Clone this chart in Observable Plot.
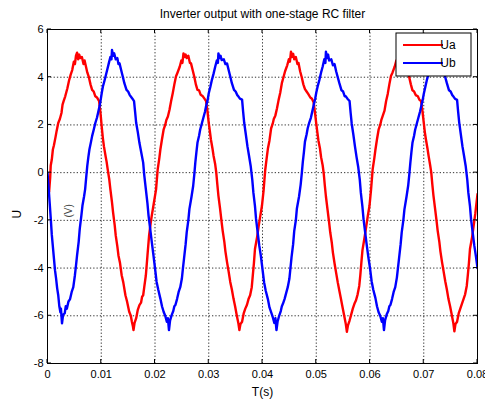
<!DOCTYPE html>
<html><head><meta charset="utf-8">
<script src="https://cdn.jsdelivr.net/npm/d3@7"></script>
<script src="https://cdn.jsdelivr.net/npm/@observablehq/plot@0.6"></script>
<style>
body{margin:0;background:#fff;}
#chart{width:485px;height:401px;}
svg{font-family:"Liberation Sans",Arial,Helvetica,sans-serif;}
</style></head><body><div id="chart"></div>
<script>
const title = "Inverter output with one-stage RC filter";
const xLabel = "T(s)";
const yLabel = "U";
const yUnit = "(V)";
const seriesNames = ["Ua", "Ub"];
const seriesColors = ["#ff0000", "#0000ff"];
const xTicks = [0, 0.01, 0.02, 0.03, 0.04, 0.05, 0.06, 0.07, 0.08];
const xTickLabels = ["0", "0.01", "0.02", "0.03", "0.04", "0.05", "0.06", "0.07", "0.08"];
const yTicks = [-8, -6, -4, -2, 0, 2, 4, 6];
const yTickLabels = ["-8", "-6", "-4", "-2", "0", "2", "4", "6"];

// Ua samples [time s, volts]
const uaSamples = [
[0,-0.55],[0.0003,-0.8],[0.0005,-0.2],[0.0006,0.3],[0.0008,0.55],[0.001,0.97],[0.0012,1.15],[0.0015,1.5],[0.0017,1.75],[0.002,2.08],
[0.0023,2.25],[0.0026,2.5],[0.0028,2.85],[0.003,3.0],[0.0033,3.2],[0.0037,3.54],[0.004,3.85],[0.0043,4.1],[0.0046,4.3],[0.0049,4.65],
[0.0051,4.55],[0.0053,4.9],[0.0055,5.03],[0.0057,4.75],[0.0059,4.95],[0.0061,4.8],[0.0064,4.85],[0.0067,4.55],[0.0069,4.7],[0.0071,4.5],
[0.0074,4.2],[0.0077,4.0],[0.008,3.7],[0.0083,3.47],[0.0086,3.4],[0.0089,3.2],[0.0092,3.15],[0.0096,3.0],[0.0099,2.4],[0.0101,1.9],
[0.0103,1.45],[0.0105,1.1],[0.0108,0.7],[0.011,0.45],[0.0112,0.14],[0.0115,-0.3],[0.0117,-0.7],[0.012,-1.25],[0.0122,-1.67],[0.0125,-2.2],
[0.0127,-2.64],[0.013,-3.1],[0.0132,-3.47],[0.0135,-3.8],[0.0138,-4.3],[0.0141,-4.6],[0.0145,-5.14],[0.0148,-5.4],[0.0152,-5.83],[0.0155,-6.0],
[0.0157,-6.25],[0.0159,-6.45],[0.016,-6.6],[0.0162,-6.3],[0.0165,-6.1],[0.0168,-5.75],[0.0171,-5.55],[0.0174,-5.45],[0.0176,-5.2],[0.0178,-5.14],
[0.018,-4.8],[0.0183,-4.3],[0.0186,-3.47],[0.0189,-2.64],[0.0192,-2.1],[0.0194,-1.8],[0.0198,-1.25],
[0.0202,-0.7],[0.0205,0.14],[0.0208,0.6],[0.021,0.97],[0.0213,1.4],[0.0216,1.8],[0.0219,2.0],[0.0221,2.2],[0.0224,2.35],[0.0227,2.64],
[0.023,3.0],[0.0233,3.33],[0.0236,3.7],[0.0239,4.03],[0.0242,4.2],[0.0246,4.44],[0.0249,4.7],[0.0251,4.6],[0.0253,5.0],[0.0255,4.85],
[0.0257,4.95],[0.0259,4.8],[0.0262,4.9],[0.0265,4.6],[0.0267,4.58],[0.027,4.3],[0.0273,4.03],[0.0276,3.7],[0.0279,3.47],[0.0282,3.45],
[0.0285,3.26],[0.0289,3.2],[0.0292,3.1],[0.0295,3.0],[0.0298,2.5],[0.03,2.08],[0.0302,1.75],[0.0304,1.39],[0.0307,1.0],[0.0309,0.7],
[0.0312,0.35],[0.0314,0],[0.0316,-0.5],[0.0318,-0.97],[0.0321,-1.5],[0.0324,-2.08],[0.0326,-2.45],[0.0329,-2.9],[0.0331,-3.3],[0.0334,-3.75],
[0.0337,-4.15],[0.034,-4.58],[0.0343,-4.9],[0.0346,-5.28],[0.0349,-5.6],[0.0352,-5.97],[0.0355,-6.3],[0.0357,-6.6],[0.0359,-6.35],[0.0362,-6.25],
[0.0365,-5.9],[0.0368,-5.7],[0.0371,-5.55],[0.0374,-5.3],[0.0377,-5.14],[0.038,-4.8],[0.0382,-4.3],[0.0384,-3.8],[0.0386,-3.2],[0.039,-2.7],
[0.0393,-2.22],[0.0396,-1.8],[0.0399,-1.39],
[0.0402,-0.75],[0.0405,0.1],[0.0408,0.65],[0.041,1.0],[0.0413,1.35],[0.0416,1.85],[0.0419,2.05],[0.0421,2.25],[0.0424,2.4],[0.0427,2.7],
[0.043,3.05],[0.0433,3.35],[0.0436,3.75],[0.0439,4.0],[0.0442,4.25],[0.0446,4.5],[0.0449,4.75],[0.0451,4.65],[0.0453,5.07],[0.0455,4.85],
[0.0457,4.98],[0.0459,4.75],[0.0462,4.85],[0.0465,4.55],[0.0467,4.6],[0.047,4.25],[0.0473,4.0],[0.0476,3.7],[0.0479,3.5],[0.0482,3.4],
[0.0485,3.3],[0.0489,3.15],[0.0492,3.1],[0.0495,2.95],[0.0498,2.45],[0.05,2.05],[0.0502,1.7],[0.0504,1.35],[0.0507,1.0],[0.0509,0.65],
[0.0512,0.3],[0.0514,-0.05],[0.0516,-0.55],[0.0518,-1.0],[0.0521,-1.55],[0.0524,-2.1],[0.0526,-2.5],[0.0529,-2.95],[0.0531,-3.35],[0.0534,-3.8],
[0.0537,-4.2],[0.054,-4.6],[0.0543,-4.95],[0.0546,-5.3],[0.0549,-5.65],[0.0552,-6.0],[0.0555,-6.35],[0.0557,-6.67],[0.0559,-6.4],[0.0562,-6.2],
[0.0565,-5.95],[0.0568,-5.7],[0.0571,-5.5],[0.0574,-5.35],[0.0577,-5.1],[0.058,-4.75],[0.0582,-4.3],[0.0584,-3.75],[0.0586,-3.25],[0.059,-2.7],
[0.0593,-2.25],[0.0596,-1.8],[0.0599,-1.4],
[0.0602,-0.7],[0.0605,0.15],[0.0608,0.6],[0.061,0.95],[0.0613,1.4],[0.0616,1.8],[0.0619,2.0],[0.0621,2.2],[0.0624,2.4],[0.0627,2.6],
[0.063,3.0],[0.0633,3.3],[0.0636,3.7],[0.0639,4.05],[0.0642,4.2],[0.0646,4.45],[0.0649,4.7],[0.0651,4.6],[0.0653,5.0],[0.0655,4.85],
[0.0657,4.95],[0.0659,4.8],[0.0662,4.85],[0.0665,4.6],[0.0667,4.55],[0.067,4.3],[0.0673,4.0],[0.0676,3.7],[0.0679,3.45],[0.0682,3.4],
[0.0685,3.25],[0.0689,3.2],[0.0692,3.05],[0.0695,3.0],[0.0698,2.5],[0.07,2.1],[0.0702,1.7],[0.0704,1.4],[0.0707,1.0],[0.0709,0.7],
[0.0712,0.3],[0.0714,0],[0.0716,-0.5],[0.0718,-0.95],[0.0721,-1.5],[0.0724,-2.05],[0.0726,-2.45],[0.0729,-2.9],[0.0731,-3.3],[0.0734,-3.75],
[0.0737,-4.15],[0.074,-4.55],[0.0743,-4.9],[0.0746,-5.3],[0.0749,-5.6],[0.0752,-5.95],[0.0755,-6.3],[0.0757,-6.65],[0.0759,-6.35],[0.0762,-6.25],
[0.0765,-5.9],[0.0768,-5.7],[0.0771,-5.5],[0.0774,-5.3],[0.0777,-5.1],[0.078,-4.75],[0.0782,-4.3],[0.0784,-3.8],[0.0786,-3.2],[0.079,-2.7],
[0.0793,-2.2],[0.0796,-1.7],[0.08,-0.9]
];

// Ub samples [time s, volts]
const ubSamples = [
[0,0],[0.0002,-0.6],[0.0004,-1.25],[0.0006,-1.9],[0.0008,-2.6],[0.001,-3.1],[0.0012,-3.6],[0.0014,-4.1],[0.0016,-4.44],[0.0018,-4.85],
[0.002,-5.14],[0.0022,-5.6],[0.0024,-5.85],[0.0025,-5.7],[0.0027,-6.32],[0.0029,-5.95],[0.0032,-5.9],[0.0034,-5.6],[0.0036,-5.7],[0.0039,-5.4],
[0.0042,-5.3],[0.0045,-5.0],[0.0048,-4.8],[0.0051,-4.3],[0.0053,-3.9],[0.0055,-3.47],[0.0058,-2.9],[0.006,-2.36],[0.0063,-1.8],[0.0065,-1.39],
[0.0068,-1.0],[0.007,-0.7],[0.0072,-0.2],[0.0074,0.28],[0.0076,0.65],[0.0078,0.97],[0.0081,1.3],[0.0083,1.53],[0.0086,1.8],[0.0089,2.08],
[0.0092,2.3],[0.0094,2.5],[0.0097,2.8],[0.0099,3.06],[0.0101,3.35],[0.0103,3.6],[0.0106,3.85],[0.0108,4.03],[0.0111,4.3],[0.0114,4.58],
[0.0117,4.85],[0.0119,4.75],[0.012,5.14],[0.0122,4.9],[0.0124,5.0],[0.0127,4.75],[0.013,4.8],[0.0132,4.55],[0.0134,4.58],[0.0137,4.3],
[0.014,4.03],[0.0143,3.75],[0.0147,3.47],[0.015,3.4],[0.0153,3.25],[0.0155,3.19],[0.0158,3.1],[0.0161,3.0],[0.0163,2.55],[0.0165,2.08],
[0.0168,1.7],[0.0171,1.25],[0.0174,0.9],[0.0178,0.42],[0.018,-0.1],[0.0183,-0.7],[0.0186,-1.3],[0.0188,-1.8],[0.0191,-2.35],[0.0194,-2.9],
[0.0197,-3.45],
[0.02,-4.0],[0.0203,-4.58],[0.0206,-4.9],[0.021,-5.28],[0.0213,-5.6],[0.0216,-5.83],[0.0219,-6.0],[0.0222,-6.25],[0.0224,-6.1],[0.0226,-6.6],
[0.0228,-6.2],[0.0231,-5.97],[0.0234,-5.8],[0.0236,-5.6],[0.0238,-5.55],[0.0241,-5.3],[0.0244,-5.0],[0.0247,-4.8],[0.025,-4.44],[0.0252,-4.0],
[0.0254,-3.6],[0.0257,-3.0],[0.0259,-2.5],[0.0262,-2.0],[0.0264,-1.53],[0.0268,-1.0],[0.0271,-0.56],[0.0273,-0.1],[0.0275,0.42],[0.0277,0.85],
[0.0279,1.25],[0.0282,1.55],[0.0284,1.8],[0.0287,2.05],[0.029,2.3],[0.0293,2.55],[0.0295,2.78],[0.0298,3.05],[0.03,3.33],[0.0303,3.6],
[0.0306,3.9],[0.0309,4.15],[0.0312,4.44],[0.0315,4.7],[0.0317,4.6],[0.0318,5.0],[0.032,4.8],[0.0322,4.9],[0.0324,4.72],[0.0328,4.75],
[0.0331,4.55],[0.0334,4.58],[0.0337,4.3],[0.034,4.03],[0.0343,3.75],[0.0347,3.47],[0.035,3.4],[0.0353,3.25],[0.0355,3.2],[0.0358,3.1],
[0.0362,3.06],[0.0364,2.55],[0.0366,2.08],[0.0369,1.6],[0.0372,1.1],[0.0375,0.7],[0.0378,0.28],[0.0381,-0.3],[0.0383,-0.83],[0.0386,-1.4],
[0.0388,-1.94],[0.0391,-2.5],[0.0394,-3.06],[0.0397,-3.5],
[0.04,-4.05],[0.0403,-4.6],[0.0406,-4.95],[0.041,-5.3],[0.0413,-5.65],[0.0416,-5.85],[0.0419,-6.05],[0.0422,-6.3],[0.0424,-6.1],[0.0426,-6.6],
[0.0428,-6.25],[0.0431,-6.0],[0.0434,-5.8],[0.0436,-5.6],[0.0438,-5.5],[0.0441,-5.3],[0.0444,-5.05],[0.0447,-4.8],[0.045,-4.45],[0.0452,-4.0],
[0.0454,-3.55],[0.0457,-3.0],[0.0459,-2.45],[0.0462,-2.0],[0.0464,-1.5],[0.0468,-1.0],[0.0471,-0.5],[0.0473,-0.05],[0.0475,0.45],[0.0477,0.85],
[0.0479,1.3],[0.0482,1.6],[0.0484,1.85],[0.0487,2.1],[0.049,2.3],[0.0493,2.6],[0.0495,2.8],[0.0498,3.1],[0.05,3.35],[0.0503,3.65],
[0.0506,3.9],[0.0509,4.2],[0.0512,4.45],[0.0515,4.75],[0.0517,4.6],[0.0518,5.07],[0.052,4.8],[0.0522,4.95],[0.0524,4.7],[0.0528,4.75],
[0.0531,4.5],[0.0534,4.55],[0.0537,4.25],[0.054,4.0],[0.0543,3.75],[0.0547,3.45],[0.055,3.4],[0.0553,3.2],[0.0555,3.2],[0.0558,3.1],
[0.0562,3.0],[0.0564,2.5],[0.0566,2.05],[0.0569,1.6],[0.0572,1.1],[0.0575,0.65],[0.0578,0.25],[0.0581,-0.3],[0.0583,-0.85],[0.0586,-1.45],
[0.0588,-1.95],[0.0591,-2.5],[0.0594,-3.05],[0.0597,-3.55],
[0.06,-4.0],[0.0603,-4.55],[0.0606,-4.9],[0.061,-5.25],[0.0613,-5.6],[0.0616,-5.85],[0.0619,-6.0],[0.0622,-6.25],[0.0624,-6.1],[0.0626,-6.6],
[0.0628,-6.2],[0.0631,-5.95],[0.0634,-5.8],[0.0636,-5.6],[0.0638,-5.55],[0.0641,-5.3],[0.0644,-5.0],[0.0647,-4.8],[0.065,-4.4],[0.0652,-4.0],
[0.0654,-3.6],[0.0657,-3.0],[0.0659,-2.5],[0.0662,-2.0],[0.0664,-1.55],[0.0668,-1.0],[0.0671,-0.55],[0.0673,-0.1],[0.0675,0.4],[0.0677,0.85],
[0.0679,1.25],[0.0682,1.55],[0.0684,1.8],[0.0687,2.05],[0.069,2.3],[0.0693,2.55],[0.0695,2.75],[0.0698,3.05],[0.07,3.3],[0.0703,3.6],
[0.0706,3.9],[0.0709,4.15],[0.0712,4.45],[0.0715,4.7],[0.0717,4.6],[0.0718,5.0],[0.072,4.8],[0.0722,4.9],[0.0724,4.7],[0.0728,4.75],
[0.0731,4.55],[0.0734,4.6],[0.0737,4.3],[0.074,4.0],[0.0743,3.75],[0.0747,3.45],[0.075,3.4],[0.0753,3.25],[0.0755,3.2],[0.0758,3.1],
[0.0762,3.05],[0.0764,2.55],[0.0766,2.1],[0.0769,1.6],[0.0772,1.1],[0.0775,0.7],[0.0778,0.28],[0.0781,-0.3],[0.0783,-0.85],[0.0786,-1.4],
[0.0788,-1.95],[0.0791,-2.5],[0.0794,-3.05],[0.0797,-3.5],[0.08,-4.0]
];

const toRows = (s) => s.map(([t, v]) => ({t, v}));
const ua = toRows(uaSamples);
const ub = toRows(ubSamples);
const font = '"Liberation Sans",Arial,Helvetica,sans-serif';

const plot = Plot.plot({
  width: 485,
  height: 401,
  marginLeft: 47,
  marginRight: 8,
  marginTop: 29,
  marginBottom: 38,
  style: {fontFamily: font, fontSize: "11px", background: "#fff", color: "#000"},
  x: {domain: [0, 0.08]},
  y: {domain: [-8, 6]},
  marks: [
    Plot.gridX(xTicks, {stroke: "#000", strokeOpacity: 0.8, strokeDasharray: "1.3,2"}),
    Plot.gridY(yTicks, {stroke: "#000", strokeOpacity: 0.8, strokeDasharray: "1.3,2"}),
    Plot.line(ua, {x: "t", y: "v", stroke: seriesColors[0], strokeWidth: 2.4, clip: true}),
    Plot.line(ub, {x: "t", y: "v", stroke: seriesColors[1], strokeWidth: 2.4, clip: true}),
    Plot.frame({stroke: "#000", strokeWidth: 1}),
    Plot.axisX(xTicks, {tickSize: 0, tickPadding: 7, label: null, fontSize: 11,
      tickFormat: d => xTickLabels[xTicks.indexOf(d)]}),
    Plot.axisY(yTicks, {tickSize: 0, tickPadding: 4, label: null, fontSize: 11,
      tickFormat: d => yTickLabels[yTicks.indexOf(d)]}),
    Plot.text([title], {frameAnchor: "top", lineAnchor: "middle", dy: -15, fontSize: 12, fill: "#000"}),
    Plot.text([xLabel], {frameAnchor: "bottom", lineAnchor: "middle", dy: 29, fontSize: 12, fill: "#000"}),
    Plot.text([yLabel], {frameAnchor: "left", dx: -30, dy: 22, rotate: -90, fontSize: 12, fill: "#000"}),
    Plot.text([yUnit], {frameAnchor: "left", dx: 21, dy: 21, rotate: -90, fontSize: 10, fill: "#444"})
  ]
});

// inward ticks on all four sides, positioned by the plot's own scales
const xs = plot.scale("x"), ys = plot.scale("y");
const [xa, xb] = xs.range;
const [yBottom, yTop] = ys.range;
const svg = d3.select(plot);
const tk = svg.append("g").attr("stroke", "#000").attr("stroke-width", 1);
xTicks.forEach(t => {
  const px = xs.apply(t);
  tk.append("line").attr("x1", px).attr("x2", px).attr("y1", yBottom).attr("y2", yBottom - 4);
  tk.append("line").attr("x1", px).attr("x2", px).attr("y1", yTop).attr("y2", yTop + 4);
});
yTicks.forEach(v => {
  const py = ys.apply(v);
  tk.append("line").attr("x1", xa).attr("x2", xa + 4).attr("y1", py).attr("y2", py);
  tk.append("line").attr("x1", xb).attr("x2", xb - 4).attr("y1", py).attr("y2", py);
});

// legend box (MATLAB style, inside the axes, top right)
const lg = svg.append("g").attr("font-family", font).attr("font-size", 12);
lg.append("rect").attr("x", 396).attr("y", 33).attr("width", 75).attr("height", 43)
  .attr("fill", "#fff").attr("stroke", "#000").attr("stroke-width", 1);
seriesNames.forEach((name, i) => {
  const y = 45 + i * 18;
  lg.append("line").attr("x1", 403).attr("x2", 443).attr("y1", y).attr("y2", y)
    .attr("stroke", seriesColors[i]).attr("stroke-width", 2);
  lg.append("text").attr("x", 448).attr("y", y).attr("dy", "0.35em").attr("fill", "#000").text(name);
});

document.getElementById("chart").appendChild(plot);
</script>
</body></html>
